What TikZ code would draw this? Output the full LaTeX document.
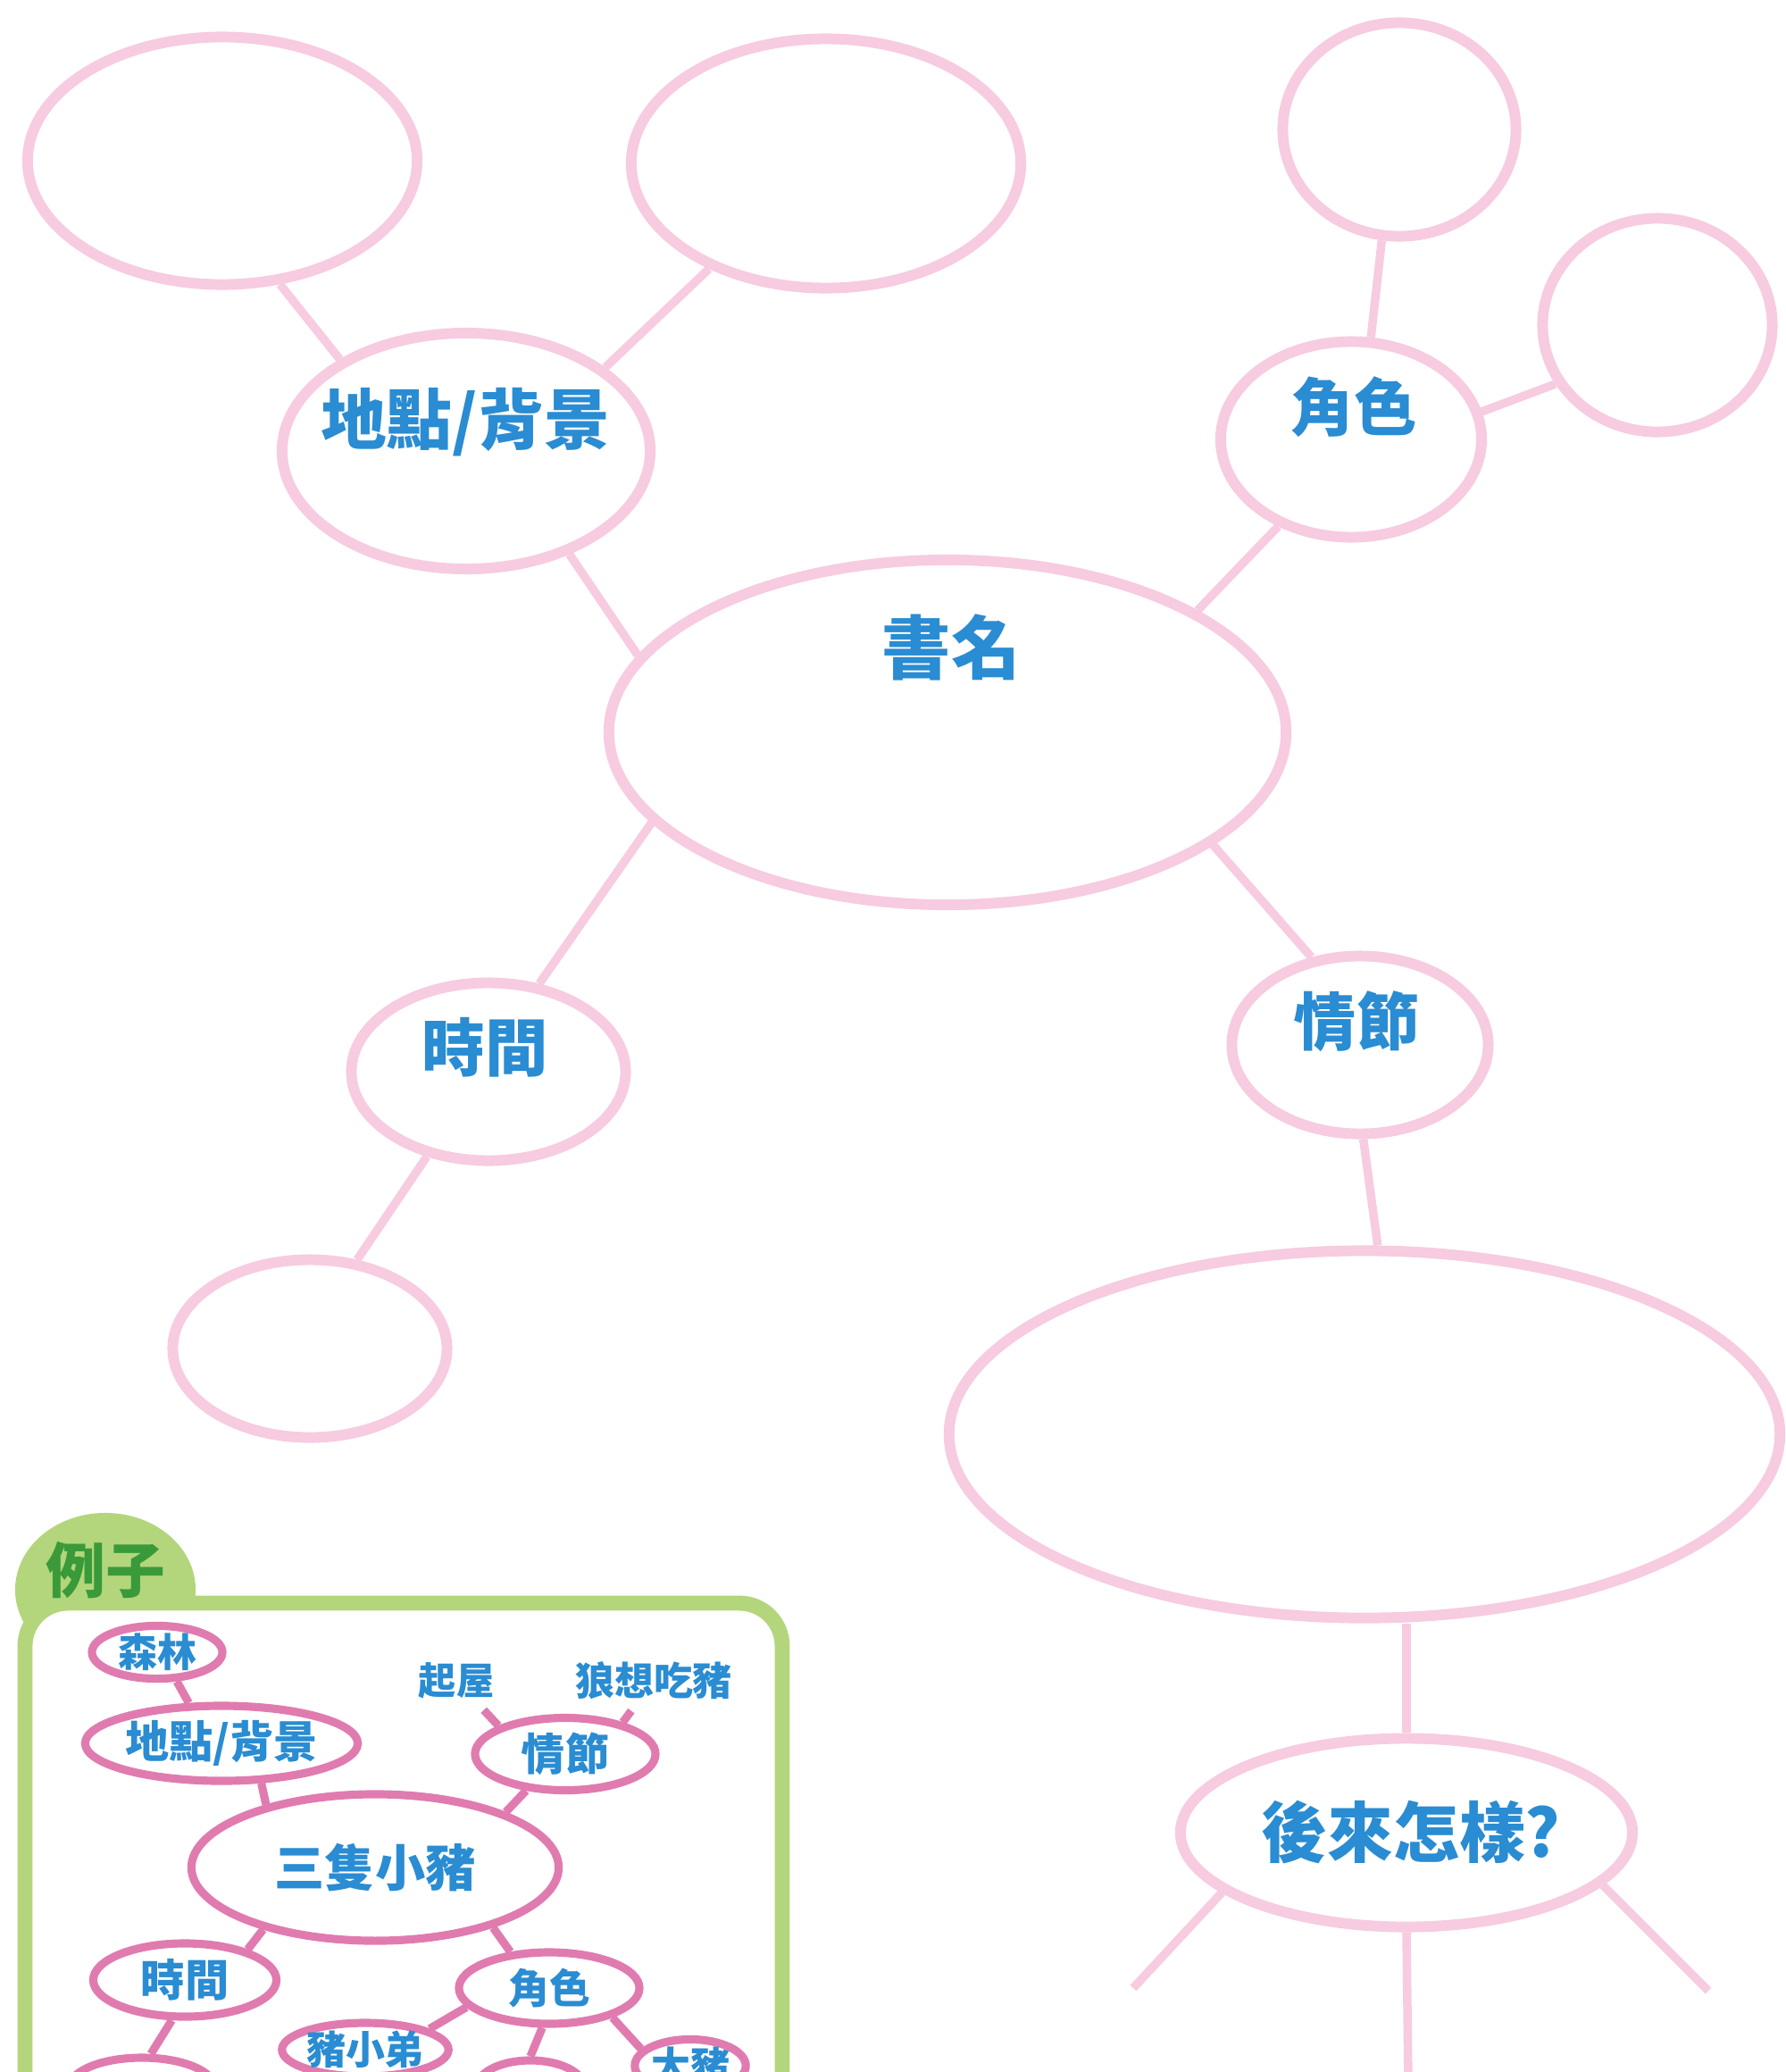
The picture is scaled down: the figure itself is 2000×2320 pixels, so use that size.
\documentclass[tikz,border=0pt]{standalone}
\usepackage{fontspec}
\newfontfamily\cjk{Noto Sans CJK TC}
\usetikzlibrary{shapes.geometric}
\definecolor{bubpink}{HTML}{F7CBE0}
\definecolor{expink}{HTML}{E07BB0}
\definecolor{txtblue}{HTML}{2A8CD2}
\definecolor{exgreen}{HTML}{B3D67C}
\definecolor{tabgreen}{HTML}{3A9A3A}

\begin{document}
\begin{tikzpicture}[x=0.01cm, y=-0.01cm,
  bub/.style 2 args={ellipse, draw=bubpink, line width=3.4pt, fill=white,
    minimum width=#1, minimum height=#2, inner sep=0pt},
  exb/.style 2 args={ellipse, draw=expink, line width=2.6pt, fill=white,
    minimum width=#1, minimum height=#2, inner sep=0pt},
  txt/.style={text=txtblue, font=\cjk\bfseries\fontsize{#1}{#1}\selectfont},
  link/.style={draw=bubpink, line width=2.7pt},
  exlink/.style={draw=expink, line width=2.6pt}]
\useasboundingbox (0,0) rectangle (2000,2320);
\clip (0,0) rectangle (2000,2320);

\node[bub={4.36cm}{2.77cm}] (tl) at (249,180) {};
\node[bub={4.36cm}{2.79cm}] (tm) at (925,183) {};
\node[bub={2.61cm}{2.39cm}] (tr) at (1567,145) {};
\node[bub={2.57cm}{2.39cm}] (rt) at (1856,364) {};
\node[bub={4.12cm}{2.64cm}] (place) at (522,505) {};
\node[bub={2.92cm}{2.19cm}] (role) at (1513,492) {};
\node[bub={7.58cm}{3.86cm}] (title) at (1061,820) {};
\node[bub={3.07cm}{1.99cm}] (time) at (547,1200) {};
\node[bub={2.87cm}{1.99cm}] (plot) at (1523,1170) {};
\node[bub={3.07cm}{1.99cm}] (bl) at (347,1510) {};
\node[bub={9.30cm}{4.11cm}] (big) at (1528,1606) {};
\node[bub={5.06cm}{2.11cm}] (after) at (1575,2052) {};

\node[txt=22pt] (titlet) at (1065,725) {書名};
\node[txt=21pt] (placet) at (521,473) {地點/背景};
\node[txt=20pt] (rolet) at (1516,456) {角色};
\node[txt=20pt] (timet) at (543,1173) {時間};
\node[txt=20pt] (plott) at (1519,1144) {情節};
\node[txt=21pt] (aftert) at (1580,2052) {後來怎樣?};

\foreach \a/\b in {tl.295/place.144, place.31/tm.222, place.315/title.166,
    role.79/tr.261, role.12/rt.210, role.230/title.26, title.197/time.60,
    title.337/plot.119, time.234/bl.62, plot.272/big.86}
  \draw[link] (\a) -- (\b);
\draw[link] (after.north |- big.south) -- (after.north);

\coordinate (al) at (1269,2226);
\coordinate (ar) at (1913,2229);
\coordinate (am) at (1577,2330);
\draw[link] (after.198) -- (al);
\draw[link] (after.345) -- (ar);
\draw[link] (after.south) -- (am);

% example box
\fill[exgreen] (118,1780) ellipse [x radius=1.01cm, y radius=0.86cm];
\draw[exgreen, line width=4.8pt, fill=white, rounded corners=0.48cm]
  (28,1795) rectangle (876,2420);
\node[text=tabgreen, font=\cjk\bfseries\fontsize{19pt}{19pt}\selectfont] (ex) at (118,1758) {例子};

\node[exb={1.46cm}{0.59cm}, txt=12.5pt] (forest) at (176,1850) {森林};
\node[exb={2.99cm}{0.84cm}, txt=14pt] (place2) at (248,1952) {地點/背景};
\node[exb={4.11cm}{1.64cm}, txt=16pt] (pigs) at (420,2091) {三隻小豬};
\node[exb={2.02cm}{0.81cm}, txt=14pt] (plot2) at (633,1964) {情節};
\node[exb={2.05cm}{0.82cm}, txt=14pt] (time2) at (207,2217) {時間};
\node[exb={2.02cm}{0.80cm}, txt=13pt] (role2) at (615,2226) {角色};
\node[exb={1.68cm}{0.60cm}, txt=12.5pt] (little) at (409,2295) {豬小弟};
\node[exb={1.19cm}{0.56cm}, txt=12.5pt] (big2) at (773,2313) {大豬};
\node[exb={1.20cm}{0.60cm}] (mid2) at (594,2337) {};
\node[exb={1.62cm}{0.66cm}] (bl2) at (159,2337) {};
\node[txt=12pt] (build) at (511,1882) {起屋};
\node[txt=12.5pt] (wolf) at (732,1882) {狼想吃豬};

\foreach \a/\b in {forest.304/place2.129, place2.315/pigs.150, plot2.223/pigs.23,
    plot2.157/build, plot2.29/wolf, pigs.209/time2.26, pigs.333/role2.137,
    time2.252/bl2.75, role2.193/little.18, role2.260/mid2.north, role2.335/big2.161}
  \draw[exlink] (\a) -- (\b);
\end{tikzpicture}
\end{document}
